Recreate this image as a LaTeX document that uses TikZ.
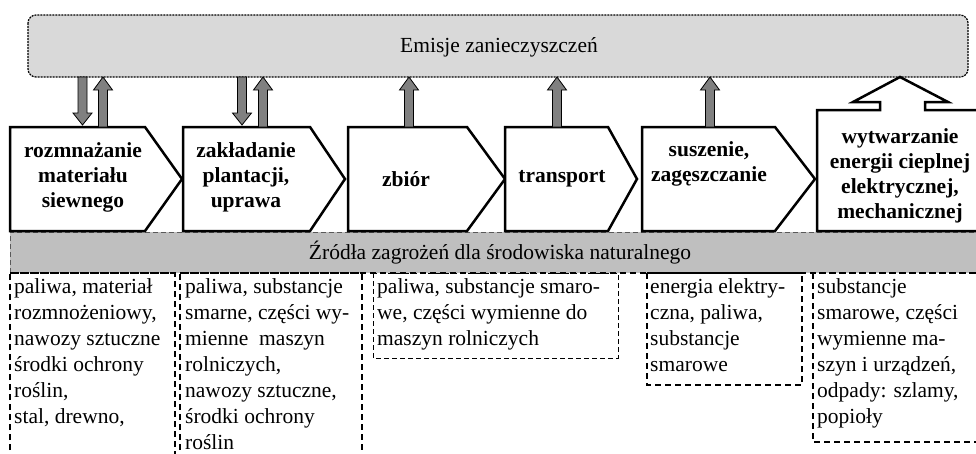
\documentclass[tikz,border=0pt]{standalone}
\usepackage{fontspec}
\setmainfont{Liberation Serif}
\definecolor{topgray}{HTML}{D9D9D9}
\definecolor{bandgray}{HTML}{BFBFBF}
\definecolor{arrgray}{HTML}{808080}
\tikzset{
 chev/.style={draw=black, line width=2.5pt, fill=white, line join=miter},
 boldtxt/.style={font=\bfseries\fontsize{21.5}{25}\selectfont, align=center, inner sep=0pt},
 listtxt/.style={font=\fontsize{21.5}{26}\selectfont, align=left, anchor=north west, inner sep=0pt},
 plaintxt/.style={font=\fontsize{21.5}{26}\selectfont, inner sep=0pt},
 thickdash/.style={draw=black, line width=2pt, dash pattern=on 6pt off 4pt},
 thindash/.style={draw=black, line width=0.8pt, dash pattern=on 5pt off 3pt},
 blockarr/.style={fill=arrgray, draw=black, line width=0.8pt},
 pics/uparr/.style={code={\draw[blockarr] (-4.5,0) -- (-4.5,-37) -- (-9.5,-37) -- (0,-50) -- (9.5,-37) -- (4.5,-37) -- (4.5,0) -- cycle;}},
 pics/downarr/.style={code={\draw[blockarr] (-4.5,0) -- (-4.5,36) -- (-9.5,36) -- (0,48) -- (9.5,36) -- (4.5,36) -- (4.5,0) -- cycle;}},
}
\begin{document}
\begin{tikzpicture}[x=1pt,y=-1pt]
\clip (0,0) rectangle (976,453);
% top emissions box
\draw[fill=topgray, line width=1.2pt, dash pattern=on 2pt off 1pt, rounded corners=8pt] (28,15) rectangle (968,77);
\node[plaintxt] (em) at (499,47) {Emisje zanieczyszczeń};
% band
\fill[bandgray] (10,232) rectangle (985,273);
\draw[gray!70!black, line width=0.8pt, dash pattern=on 5pt off 3pt] (10,273) -- (10,232) -- (985,232);
\node[plaintxt] (zr) at (500,253) {Źródła zagrożeń dla środowiska naturalnego};
% chevrons
\draw[chev] (10,231) -- (10,127) -- (145,127) -- (182,179) -- (145,231) -- cycle;
\draw[chev] (183,231) -- (183,127) -- (310,127) -- (345,179) -- (310,231) -- cycle;
\draw[chev] (348,231) -- (348,127) -- (467,127) -- (505,179) -- (467,231) -- cycle;
\draw[chev] (505,231) -- (505,127) -- (608,127) -- (637,179) -- (608,231) -- cycle;
\draw[chev] (642,231) -- (642,127) -- (775,127) -- (815,179) -- (775,231) -- cycle;
\draw[chev] (990,231) -- (817,231) -- (817,110) -- (880,110) -- (880,102) -- (853,102) -- (900,77) -- (948,102) -- (925,102) -- (925,110) -- (990,110);
% arrows
\pic at (82.5,77) {downarr};
\pic at (103,127) {uparr};
\pic at (242,77) {downarr};
\pic at (263,127) {uparr};
\pic at (409,127) {uparr};
\pic at (557,127) {uparr};
\pic at (710,127) {uparr};
% bold step texts
\node[boldtxt] (s1) at (83,177) {rozmnażanie\\materiału\\siewnego};
\node[boldtxt] (s2) at (246,177) {zakładanie\\plantacji,\\uprawa};
\node[boldtxt] (s3) at (406,179) {zbiór};
\node[boldtxt] (s4) at (562,179) {transport};
\node[boldtxt] (s5) at (709,164) {suszenie,\\zagęszczanie};
\node[boldtxt] (s6) at (900,176) {wytwarzanie\\energii cieplnej\\elektrycznej,\\mechanicznej};
% bottom boxes
\draw[thickdash] (10,470) -- (10,273) -- (175,273) -- (175,470);
\draw[thickdash] (180,470) -- (180,273) -- (362,273) -- (362,470);
\draw[thindash] (373,273) rectangle (618,358);
\draw[thickdash] (647,273) rectangle (802,385);
\draw[thickdash] (813,273) rectangle (990,442);
\draw[thickdash] (10,273) -- (985,273);
\node[listtxt] (t1) at (14,278) {paliwa, materiał\\rozmnożeniowy,\\nawozy sztuczne\\środki ochrony\\roślin,\\stal, drewno,};
\node[listtxt] (t2) at (185,278) {paliwa, substancje\\smarne, części wy-\\mienne~~maszyn\\rolniczych,\\nawozy sztuczne,\\środki ochrony\\roślin};
\node[listtxt] (t3) at (377,278) {paliwa, substancje smaro-\\we, części wymienne do\\maszyn rolniczych};
\node[listtxt] (t4) at (650,278) {energia elektry-\\czna, paliwa,\\substancje\\smarowe};
\node[listtxt] (t5) at (817,278) {substancje\\smarowe, części\\wymienne ma-\\szyn i urządzeń,\\odpady: szlamy,\\popioły};
\end{tikzpicture}
\end{document}
